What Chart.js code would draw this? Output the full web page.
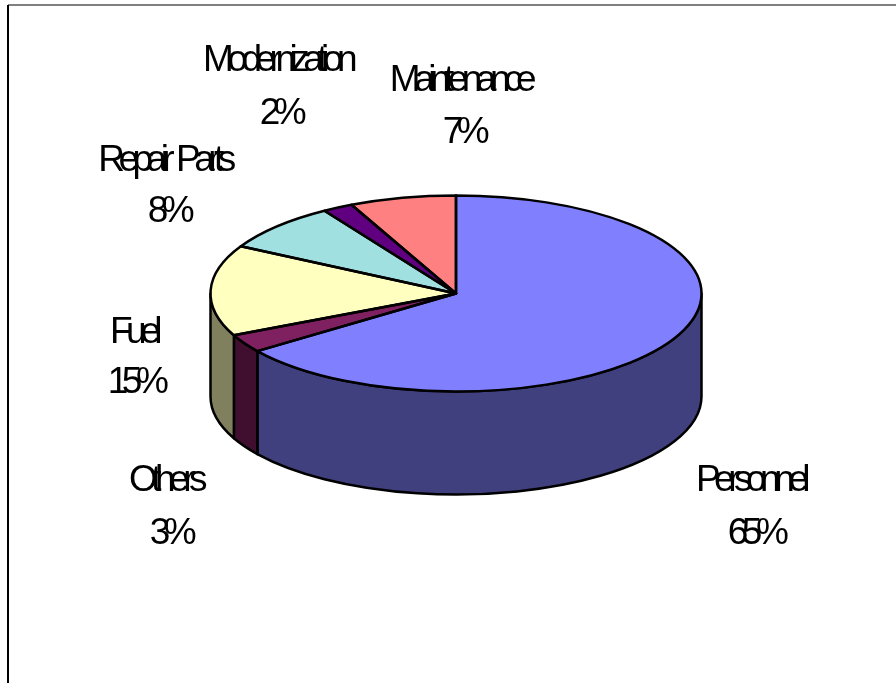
<!DOCTYPE html>
<html>
<head>
<meta charset="utf-8">
<style>
  html, body { margin: 0; padding: 0; background: #fff; }
  #wrap { width: 896px; height: 683px; }
</style>
<script src="https://cdn.jsdelivr.net/npm/chart.js@4"></script>
</head>
<body>
<div id="wrap"><canvas id="pie3d"></canvas></div>
<script>
  var categories = ['Personnel', 'Others', 'Fuel', 'Repair Parts', 'Modernization', 'Maintenance'];
  var shares = [65, 3, 15, 8, 2, 7];
  var topColors = ['#8080FF', '#7F2060', '#FFFFC0', '#A0E0E0', '#600080', '#FF8080'];
  var sideColors = ['#40407F', '#400F30', '#80805F', '#507070', '#300040', '#7F4040'];
  var labelSpots = [[750, 491, 755, 544], [165, 491, 170, 544], [133, 343, 135, 393], [164, 171, 168, 222], [277, 71, 280, 124], [460, 91, 463, 143]];

  var squash = 98 / 245.5; // ellipse height over width
  var depth = 103;

  function squashed(ctx, arc) {
    ctx.translate(arc.x, arc.y);
    ctx.scale(1, squash);
    ctx.translate(-arc.x, -arc.y);
  }

  // path of the rim wall between two angles, in page pixels
  function wallPath(ctx, arc, a0, a1) {
    var rx = arc.outerRadius, ry = rx * squash;
    ctx.beginPath();
    ctx.ellipse(arc.x, arc.y, rx, ry, 0, a0, a1);
    ctx.ellipse(arc.x, arc.y + depth, rx, ry, 0, a1, a0, true);
    ctx.closePath();
  }

  var pie3d = {
    id: 'pie3d',
    beforeDatasetsDraw: function (chart) {
      var ctx = chart.ctx;
      var arcs = chart.getDatasetMeta(0).data;
      ctx.save();
      ctx.lineWidth = 2.5;
      ctx.strokeStyle = '#000';
      ctx.lineJoin = 'round';
      arcs.forEach(function (arc, i) {
        var a0 = Math.max(arc.startAngle, 0);
        var a1 = Math.min(arc.endAngle, Math.PI);
        if (a1 <= a0) return;
        wallPath(ctx, arc, a0, a1);
        ctx.fillStyle = sideColors[i];
        ctx.fill();
        ctx.stroke();
      });
      ctx.restore();
      ctx.save();
      squashed(ctx, arcs[0]);
    },
    afterDatasetsDraw: function (chart) {
      var ctx = chart.ctx;
      ctx.restore();
      var arcs = chart.getDatasetMeta(0).data;
      ctx.save();
      ctx.lineWidth = 2.5;
      ctx.strokeStyle = '#000';
      ctx.lineJoin = 'round';
      arcs.forEach(function (arc) {
        var rx = arc.outerRadius, ry = rx * squash;
        ctx.beginPath();
        ctx.moveTo(arc.x, arc.y);
        ctx.ellipse(arc.x, arc.y, rx, ry, 0, arc.startAngle, arc.endAngle);
        ctx.closePath();
        ctx.stroke();
      });
      ctx.restore();
    },
    afterDraw: function (chart) {
      var ctx = chart.ctx;
      ctx.save();
      // chart frame
      ctx.lineWidth = 2;
      ctx.strokeStyle = '#808080';
      ctx.beginPath();
      ctx.moveTo(8, 5);
      ctx.lineTo(896, 5);
      ctx.stroke();
      ctx.strokeStyle = '#000';
      ctx.beginPath();
      ctx.moveTo(8, 5);
      ctx.lineTo(8, 683);
      ctx.stroke();
      // labels
      ctx.fillStyle = '#000';
      ctx.font = '37px "Liberation Sans"';
      ctx.letterSpacing = '-6.5px';
      ctx.wordSpacing = '4px';
      ctx.textAlign = 'center';
      categories.forEach(function (name, i) {
        var spot = labelSpots[i];
        ctx.fillText(name, spot[0], spot[1]);
        ctx.fillText(shares[i] + '%', spot[2], spot[3]);
      });
      ctx.restore();
    }
  };

  new Chart(document.getElementById('pie3d').getContext('2d'), {
    type: 'pie',
    data: {
      labels: categories,
      datasets: [{ data: shares, backgroundColor: topColors, borderWidth: 0 }]
    },
    options: {
      responsive: true,
      maintainAspectRatio: false,
      animation: false,
      radius: 245.5,
      layout: { padding: { left: 16, bottom: 96 } },
      plugins: { legend: { display: false }, tooltip: { enabled: false } }
    },
    plugins: [pie3d]
  });
</script>
</body>
</html>
